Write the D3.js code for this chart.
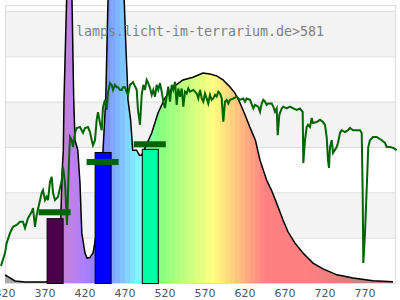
<!DOCTYPE html>
<html>
<head>
<meta charset="utf-8">
<script src="https://cdn.jsdelivr.net/npm/d3@7"></script>
<style>
    body { margin: 0; background: #fff; }
    svg { display: block; }
</style>
</head>
<body>
<svg width="400" height="300"></svg>
<script>
// lamp spectrum (nm, relative value)
var lampWl = [320, 332.5, 345, 370, 386, 389, 391.5, 392.9, 393.75, 397, 398.5, 400, 401.5, 403.75, 405.9, 407.5, 411, 413.75, 416, 420, 422.5, 426, 430, 435, 438.75, 442.5, 445.9, 448.75, 452, 458, 464, 469, 471.25, 472.9, 473.75, 477, 479.6, 484.6, 487.9, 490.9, 495, 503.4, 511.25, 520, 530, 542.5, 555, 567.5, 576, 584.6, 592.5, 601, 607.5, 613.75, 620, 626, 633, 638.75, 647, 653, 659.6, 667.5, 673.75, 682.5, 692.5, 705, 717.5, 735, 755, 780, 805];
var lampVal = [0.18, 0.044, 0.022, 0.022, 0.07, 1.0, 2.5, 2.93, 4.04, 6.24, 7.2, 7.8, 7.2, 6.24, 4.04, 3.15, 2.93, 2.2, 1.1, 0.66, 0.55, 0.56, 0.66, 1.17, 1.83, 2.93, 4.04, 6.24, 7.5, 8.5, 7.5, 6.24, 5.14, 4.48, 4.04, 3.6, 2.93, 2.93, 2.82, 2.82, 2.98, 3.31, 3.75, 4.08, 4.32, 4.48, 4.54, 4.63, 4.61, 4.57, 4.48, 4.33, 4.19, 3.97, 3.71, 3.44, 3.15, 2.71, 2.27, 2.05, 1.76, 1.39, 1.13, 0.88, 0.66, 0.44, 0.31, 0.18, 0.11, 0.05, 0.03];

// sunlight reference (nm, relative value)
var sunWl = [315, 320, 322.1, 326.25, 330, 334.6, 338.75, 342.5, 345, 348.75, 353.4, 355, 357.5, 359.6, 365.9, 367.5, 370, 372.1, 373.75, 376.25, 378.4, 380, 382.5, 386.25, 390.9, 392.5, 395, 397.5, 400, 401.25, 403.4, 405, 407.5, 409.6, 413.75, 417.5, 420, 423.75, 426.25, 428.4, 430, 432.5, 434.6, 436.25, 438.75, 440.9, 442.5, 445, 447.1, 448.75, 451.25, 453.4, 455, 457.5, 459.6, 461.25, 463.75, 465.9, 467.5, 470, 472.1, 473.75, 476.25, 480, 484.6, 486.25,
    488.75, 490.9, 492.9, 495, 497.1, 499.1, 501.25, 503.4, 505.4, 507.5, 509.6, 511.6, 513.75, 515.9, 517.9, 520, 522.1, 524.1, 526.25, 528.4, 530.4, 532.5, 534.6, 536.6, 538.75, 540.9, 542.9, 545, 547.1, 549.1, 551.25, 555.4, 559.6, 561.6, 563.75, 565.9, 567.9, 570, 572.1, 574.1, 576.25, 578.4, 580.4, 582.5, 584.6, 586.6, 588.75, 590.9, 592.9, 595, 597.1, 599.1, 601.25, 605.4, 609.6, 613.75, 617.9, 620, 622.1, 626.25, 630.4, 632.5, 636.6, 638.75, 640.9, 642.9, 645, 647.1, 649.1, 653.4, 655.4, 657.5, 659.6, 660.9, 662.9, 665.9, 667.9, 672.1, 676.25, 680.4, 684.6, 688.75,
    692.1, 692.9, 695, 697.1, 698.75, 701.25, 703.4, 705, 709.6, 713.75, 717.5, 720, 722.1, 723.75, 725, 726.25, 728.4, 730, 734.6, 736.25, 738.75, 740.9, 745, 748.75, 751.25, 755, 763.75, 765.9, 767.1, 767.9, 770, 771.25, 772.9, 774.1, 776.25, 780, 784.6, 790.9, 795, 797.1, 801.25, 805.4, 809.6];
var sunVal = [0.375, 0.66, 0.88, 1.10, 1.24, 1.28, 1.35, 1.35, 1.21, 1.43, 1.57, 1.65, 1.24, 1.50, 1.99, 2.05, 1.83, 1.90, 1.83, 2.23, 2.34, 1.99, 1.83, 1.90, 2.27, 2.56, 2.21, 1.28, 2.71, 3.22, 3.15, 3.0, 3.31, 3.42, 3.44, 3.31, 3.42, 3.44, 3.33, 3.15, 3.04, 3.15, 3.60, 3.77, 3.53, 3.37, 3.88, 4.04, 3.82, 4.19, 4.41, 4.37, 4.26, 4.37, 4.32, 4.32, 4.26, 4.26, 4.32, 4.32, 4.21, 4.15, 4.37, 4.43, 4.26, 3.82,
    3.49, 4.15, 4.37, 4.26, 4.48, 4.41, 4.30, 4.15, 4.26, 4.11, 4.37, 4.26, 4.41, 4.22, 4.0, 3.86, 4.11, 4.33, 4.0, 4.37, 4.26, 4.44, 3.93, 4.29, 4.11, 4.29, 3.89, 4.22, 4.18, 4.29, 4.22, 4.26, 4.18, 4.07, 4.26, 4.07, 4.0, 4.18, 4.07, 3.96, 4.15, 4.04, 4.07, 4.15, 4.11, 4.22, 4.18, 4.07, 3.56, 4.0, 4.04, 3.96, 4.04, 4.07, 4.11, 4.04, 4.07, 4.0, 4.07, 4.04, 3.85, 3.93, 3.89, 3.78, 3.96, 4.04, 4.0, 3.93, 3.96, 3.96, 3.89, 3.78, 3.85, 3.26, 3.71, 3.85, 3.89, 3.85, 3.89, 3.85, 3.82, 3.85,
    3.77, 2.65, 3.15, 3.44, 3.49, 3.44, 3.64, 3.53, 3.55, 3.60, 3.55, 3.49, 3.22, 2.71, 2.54, 3.0, 3.15, 2.87, 3.0, 3.09, 3.31, 3.37, 3.33, 3.37, 3.42, 3.37, 3.37, 3.31, 1.99, 0.44, 1.10, 1.68, 2.43, 3.0, 3.15, 3.22, 3.22, 3.15, 3.09, 3.0, 3.0, 2.98, 2.93];

// LED bars and their target markers
var barWl = [382, 442, 501];
var barVal = [1.43, 2.89, 2.96];
var markVal = [1.56, 2.67, 3.06];
var barColors = ["#4b004b", "#0000ff", "#00ffa0"];

var tickLabels = [320, 370, 420, 470, 520, 570, 620, 670, 720, 770];
var gridVals = [0, 1, 2, 3, 4, 5, 6];

var titleText = "lamps.licht-im-terrarium.de>581";

// wavelength -> pale rainbow colour
function waveColor(w) {
    if (w < 380) return "#aaaaaa";
    var r = 0, g = 0, b = 0;
    if (w < 440) { r = -(w - 440) / 60; b = 1; }
    else if (w < 490) { g = (w - 440) / 50; b = 1; }
    else if (w < 510) { g = 1; b = -(w - 510) / 20; }
    else if (w < 580) { r = (w - 510) / 70; g = 1; }
    else if (w < 645) { r = 1; g = -(w - 645) / 65; }
    else { r = 1; }
    var f = 1;
    if (w < 420) f = 0.3 + 0.7 * (w - 380) / 40;
    else if (w > 700) f = Math.max(0.3, 0.3 + 0.7 * (780 - w) / 80);
    f = Math.pow(f, 0.6);
    function mix(c) { return Math.round(128 + 127 * c * f); }
    return "rgb(" + mix(r) + "," + mix(g) + "," + mix(b) + ")";
}

function drawChart() {
    var svg = d3.select("svg"),
        left = 5, right = 395, top = 5, bottom = 283;

    var x = d3.scaleLinear().domain([320, 807.5]).range([left, right]);
    var y = d3.scaleLinear().domain([0, 6]).range([bottom, 11]);

    // bands
    svg.append("g")
      .selectAll("rect")
      .data([1, 3, 5])
      .enter().append("rect")
        .attr("x", left)
        .attr("width", right - left)
        .attr("y", function(d) { return y(d + 1); })
        .attr("height", function(d) { return y(d) - y(d + 1); })
        .attr("fill", "#f3f3f3");

    svg.append("g")
      .selectAll("line")
      .data(gridVals)
      .enter().append("line")
        .attr("x1", left).attr("x2", right)
        .attr("y1", function(d) { return y(d) + 0.5; })
        .attr("y2", function(d) { return y(d) + 0.5; })
        .attr("stroke", "#dddddd");

    svg.append("rect")
        .attr("x", left + 0.5).attr("y", top + 0.5)
        .attr("width", right - left).attr("height", bottom - top)
        .attr("fill", "none")
        .attr("stroke", "#dddddd");

    // stepped colour gradient along wavelength
    var grad = svg.append("defs").append("linearGradient")
        .attr("id", "spec")
        .attr("gradientUnits", "userSpaceOnUse")
        .attr("x1", x(320)).attr("x2", x(810))
        .attr("y1", 0).attr("y2", 0);
    var step = 6.25;
    for (var w = 320; w < 810; w += step) {
        var c = waveColor(w + step / 2);
        grad.append("stop").attr("offset", (w - 320) / 490).attr("stop-color", c);
        grad.append("stop").attr("offset", (w + step - 320) / 490).attr("stop-color", c);
    }

    var lamp = lampWl.map(function(d, i) { return [d, lampVal[i]]; });

    var area = d3.area()
        .x(function(d) { return x(d[0]); })
        .y0(y(0))
        .y1(function(d) { return y(d[1]); });

    var line = d3.line()
        .x(function(d) { return x(d[0]); })
        .y(function(d) { return y(d[1]); });

    svg.append("path")
        .datum(lamp)
        .attr("d", area)
        .attr("fill", "url(#spec)");

    svg.append("path")
        .datum(lamp)
        .attr("d", line)
        .attr("fill", "none")
        .attr("stroke", "#000")
        .attr("stroke-width", 1.5);

    // sunlight
    var sun = sunWl.map(function(d, i) { return [d, sunVal[i]]; });
    svg.append("path")
        .datum(sun)
        .attr("d", line)
        .attr("fill", "none")
        .attr("stroke", "#006400")
        .attr("stroke-width", 2)
        .attr("stroke-linejoin", "miter");

    // bars
    svg.append("g")
      .selectAll("rect")
      .data(barWl)
      .enter().append("rect")
        .attr("x", function(d) { return x(d - 10) + 0.5; })
        .attr("width", function(d) { return x(d + 10) - x(d - 10); })
        .attr("y", function(d, i) { return y(barVal[i]) + 0.5; })
        .attr("height", function(d, i) { return y(0) - y(barVal[i]); })
        .attr("fill", function(d, i) { return barColors[i]; })
        .attr("stroke", "#000")
        .attr("stroke-width", 1);

    svg.append("g")
      .selectAll("rect")
      .data(barWl)
      .enter().append("rect")
        .attr("x", function(d) { return x(d - 20); })
        .attr("width", function(d) { return x(d + 20) - x(d - 20); })
        .attr("y", function(d, i) { return y(markVal[i]) - 3; })
        .attr("height", 6)
        .attr("fill", "#006400");

    // x labels
    svg.append("g")
      .selectAll("text")
      .data(tickLabels)
      .enter().append("text")
        .attr("x", function(d) { return x(d); })
        .attr("y", 297)
        .attr("text-anchor", "middle")
        .attr("font-family", "DejaVu Sans")
        .attr("font-size", "11px")
        .attr("fill", "#555")
        .text(function(d) { return d; });

    svg.append("text")
        .attr("x", 200)
        .attr("y", 36)
        .attr("text-anchor", "middle")
        .attr("font-family", "DejaVu Sans Mono")
        .attr("font-size", "13.3px")
        .attr("fill", "#808080")
        .text(titleText);
}

drawChart();
</script>
</body>
</html>
